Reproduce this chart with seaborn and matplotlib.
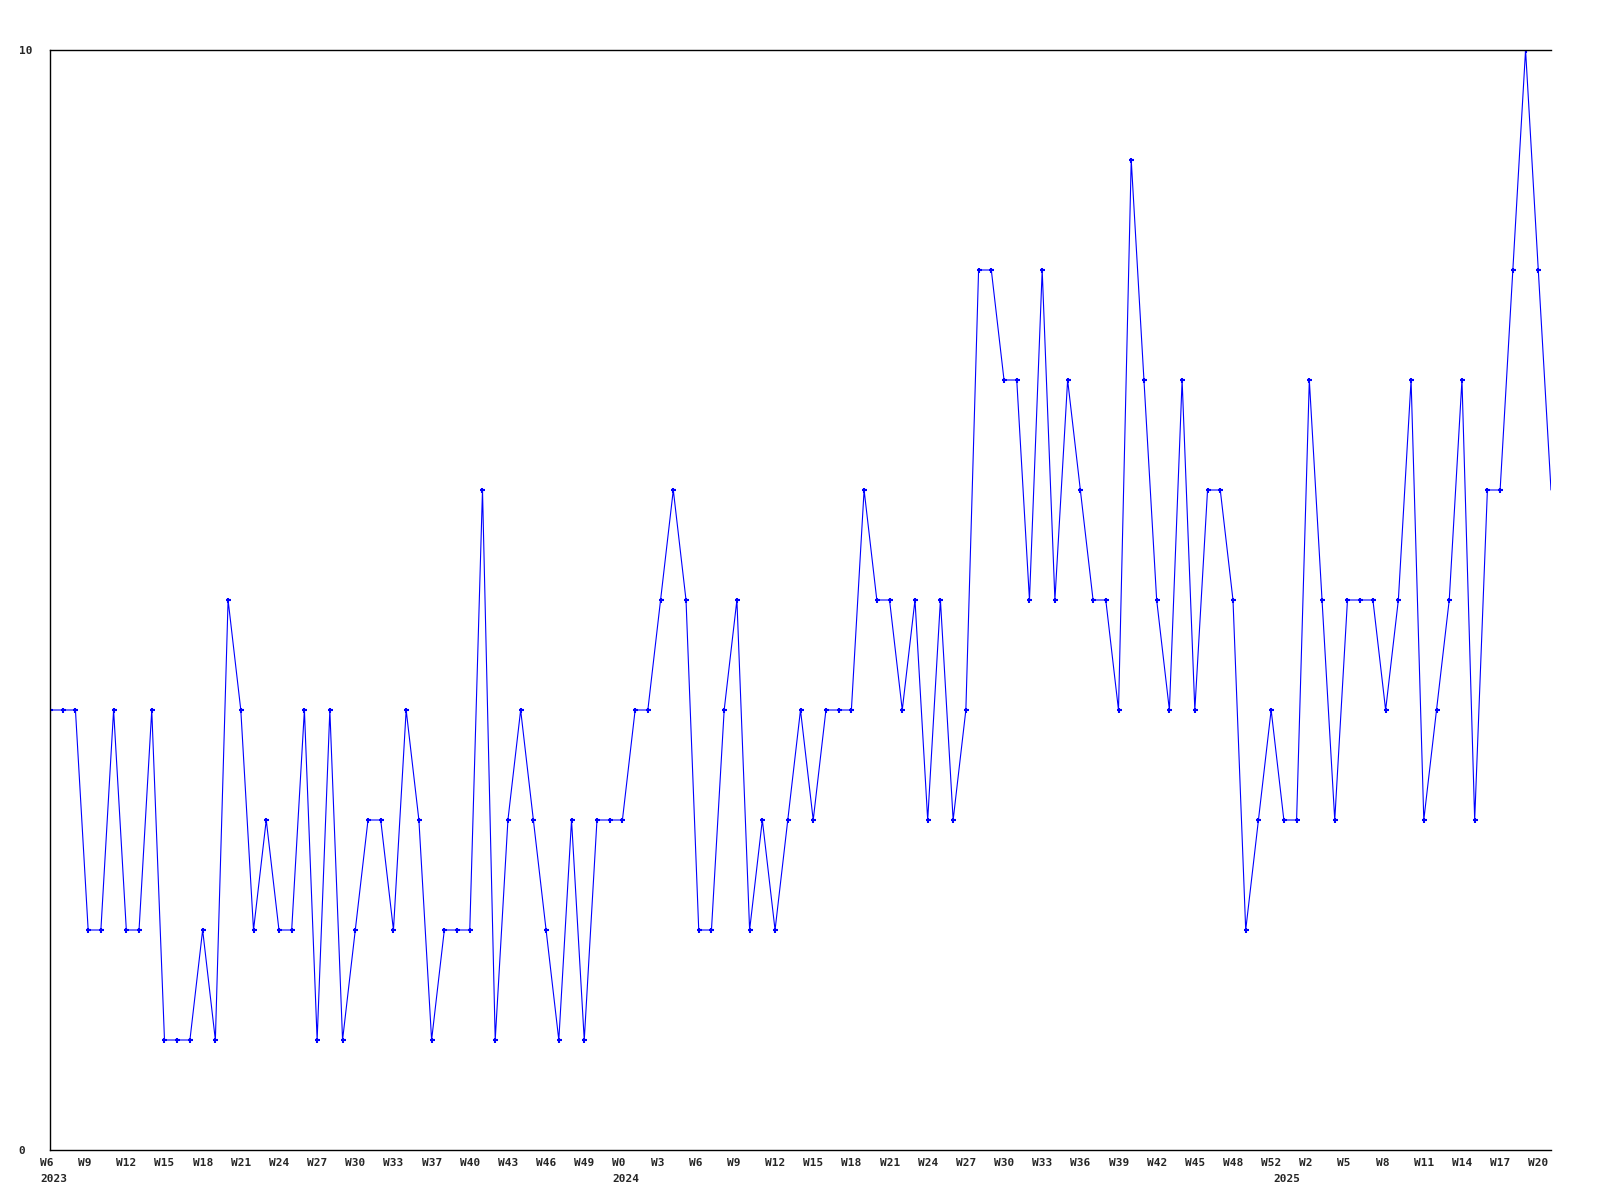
import matplotlib
matplotlib.use("Agg")
import matplotlib.pyplot as plt
import matplotlib.transforms as mtransforms
import numpy as np
import pandas as pd
import seaborn as sns


# Data ------------------------------------------------------------------------

# weekly counts, 2023 W6 .. 2025 W21 (one value per week)
counts = [
    4, 4, 4, 2, 2, 4, 2, 2, 4, 1,
    1, 1, 2, 1, 5, 4, 2, 3, 2, 2,
    4, 1, 4, 1, 2, 3, 3, 2, 4, 3,
    1, 2, 2, 2, 6, 1, 3, 4, 3, 2,
    1, 3, 1, 3, 3, 3, 4, 4, 5, 6,
    5, 2, 2, 4, 5, 2, 3, 2, 3, 4,
    3, 4, 4, 4, 6, 5, 5, 4, 5, 3,
    5, 3, 4, 8, 8, 7, 7, 5, 8, 5,
    7, 6, 5, 5, 4, 9, 7, 5, 4, 7,
    4, 6, 6, 5, 2, 3, 4, 3, 3, 7,
    5, 3, 5, 5, 5, 4, 5, 7, 3, 4,
    5, 7, 3, 6, 6, 8, 10, 8, 6,
]

# week labels shown every third week
week_labels = [
    "W6", "W9", "W12", "W15", "W18", "W21", "W24", "W27", "W30", "W33",
    "W37", "W40", "W43", "W46", "W49", "W0", "W3", "W6", "W9", "W12",
    "W15", "W18", "W21", "W24", "W27", "W30", "W33", "W36", "W39", "W42",
    "W45", "W48", "W52", "W2", "W5", "W8", "W11", "W14", "W17", "W20",
]

# year labels and the week index where each year starts
year_labels = ["2023", "2024", "2025"]
year_week_index = [0, 45, 97]

y_labels = ["0", "10"]
y_ticks = [0, 10]

df = pd.DataFrame({"week": np.arange(len(counts)), "count": counts})


# Figure ----------------------------------------------------------------------

sns.set_style("white")
plt.rcParams["font.family"] = ["DejaVu Sans Mono", "DejaVu Sans"]

fig = plt.figure(figsize=(16, 12), dpi=100)
ax = fig.add_axes([50 / 1600, 50 / 1200, 1501 / 1600, 1100 / 1200])

# the last week sits on the right edge and has no marker in the original
sns.lineplot(
    data=df,
    x="week",
    y="count",
    ax=ax,
    color="#0000ff",
    linewidth=0.8,
    marker="+",
    markersize=3.6,
    markeredgewidth=1.5,
    markeredgecolor="#0000ff",
    markevery=list(range(len(counts) - 1)),
)

ax.set_xlim(0, len(counts) - 1)
ax.set_ylim(0, 10)
ax.set_xlabel("")
ax.set_ylabel("")

# spines: left, top, bottom only
for side in ["left", "top", "bottom"]:
    ax.spines[side].set_visible(True)
    ax.spines[side].set_color("black")
    ax.spines[side].set_linewidth(1.0)
ax.spines["right"].set_visible(False)

# x ticks: week labels every 3 weeks, years on a second row
ax.xaxis.remove_overlapping_locs = False
ax.set_xticks(np.arange(0, 3 * len(week_labels), 3))
ax.set_xticklabels(week_labels)
ax.set_xticks(year_week_index, minor=True)
ax.set_xticklabels(year_labels, minor=True)

ax.tick_params(axis="x", which="major", length=0, pad=6, labelsize=8)
ax.tick_params(axis="x", which="minor", length=0, pad=17, labelsize=8)

# y ticks: only 0 and 10, left aligned at the figure edge
ax.set_yticks(y_ticks)
ax.set_yticklabels(y_labels)
ax.tick_params(axis="y", length=0, pad=22.5, labelsize=8)

shift = mtransforms.ScaledTranslation(-10 / 100, 0, fig.dpi_scale_trans)
for t in ax.xaxis.get_major_ticks() + ax.xaxis.get_minor_ticks():
    t.label1.set_horizontalalignment("left")
    t.label1.set_fontweight("bold")
    t.label1.set_transform(t.label1.get_transform() + shift)

for lab in ax.get_yticklabels():
    lab.set_horizontalalignment("left")
    lab.set_fontweight("bold")

ax.grid(False)

fig.savefig("out.png", dpi=100)
